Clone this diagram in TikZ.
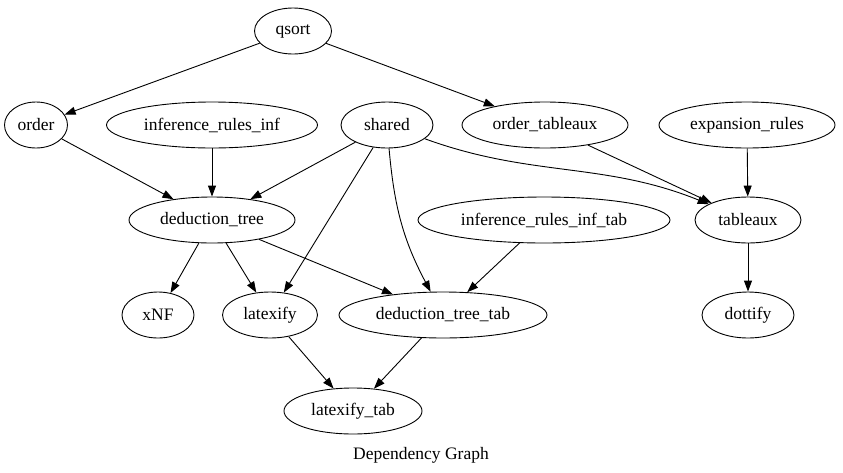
\documentclass[tikz,border=0pt]{standalone}
\usepackage{fontspec}
\setmainfont{Liberation Serif}
\usetikzlibrary{shapes.geometric,arrows.meta}

\tikzset{
	gnode/.style={ellipse,draw,line width=0.9pt,inner sep=0pt,minimum height=46pt,font=\fontsize{17.5}{20}\selectfont},
	dep/.style={-{Triangle[length=11pt,width=8pt]},line width=0.9pt}
}

\begin{document}
\begin{tikzpicture}[x=1pt,y=-1pt]
		\useasboundingbox (0,0) rectangle (843,472);
		
		\node(qsort) at (293,31)[gnode,minimum width=77pt]{qsort};
		\node(order) at (36,125)[gnode,minimum width=63pt]{order};
		\node(iri) at (212,125)[gnode,minimum width=211pt]{inference\_rules\_inf};
		\node(shared) at (387,125)[gnode,minimum width=92pt]{shared};
		\node(ordtab) at (545,125)[gnode,minimum width=166pt]{order\_tableaux};
		\node(exp) at (747,125)[gnode,minimum width=176pt]{expansion\_rules};
		\node(dt) at (212,220)[gnode,minimum width=166pt]{deduction\_tree};
		\node(irit) at (544,220)[gnode,minimum width=252pt]{inference\_rules\_inf\_tab};
		\node(tab) at (748,220)[gnode,minimum width=106pt]{tableaux};
		\node(xnf) at (158,315)[gnode,minimum width=72pt]{xNF};
		\node(ltx) at (270,315)[gnode,minimum width=95pt]{latexify};
		\node(dtt) at (443,315)[gnode,minimum width=208pt]{deduction\_tree\_tab};
		\node(dot) at (748,315)[gnode,minimum width=92pt]{dottify};
		\node(ltxtab) at (353,411)[gnode,minimum width=138pt]{latexify\_tab};
		\node(title) at (421,455)[font=\fontsize{17.5}{20}\selectfont]{Dependency Graph};
		
		\draw[dep] (qsort) -- (order);
		\draw[dep] (qsort) -- (ordtab);
		\draw[dep] (order) -- (dt);
		\draw[dep] (iri) -- (dt);
		\draw[dep] (shared) -- (dt);
		\draw[dep] (shared) -- (ltx);
		\draw[dep] (shared) to[out=-85,in=118] (dtt);
		\draw[dep] (shared) to[out=-20,in=158] (tab);
		\draw[dep] (ordtab) -- (tab);
		\draw[dep] (exp) -- (tab);
		\draw[dep] (dt) -- (xnf);
		\draw[dep] (dt) -- (ltx);
		\draw[dep] (dt) -- (dtt);
		\draw[dep] (irit) -- (dtt);
		\draw[dep] (tab) -- (dot);
		\draw[dep] (ltx) -- (ltxtab);
		\draw[dep] (dtt) -- (ltxtab);
		
	\end{tikzpicture}
\end{document}
